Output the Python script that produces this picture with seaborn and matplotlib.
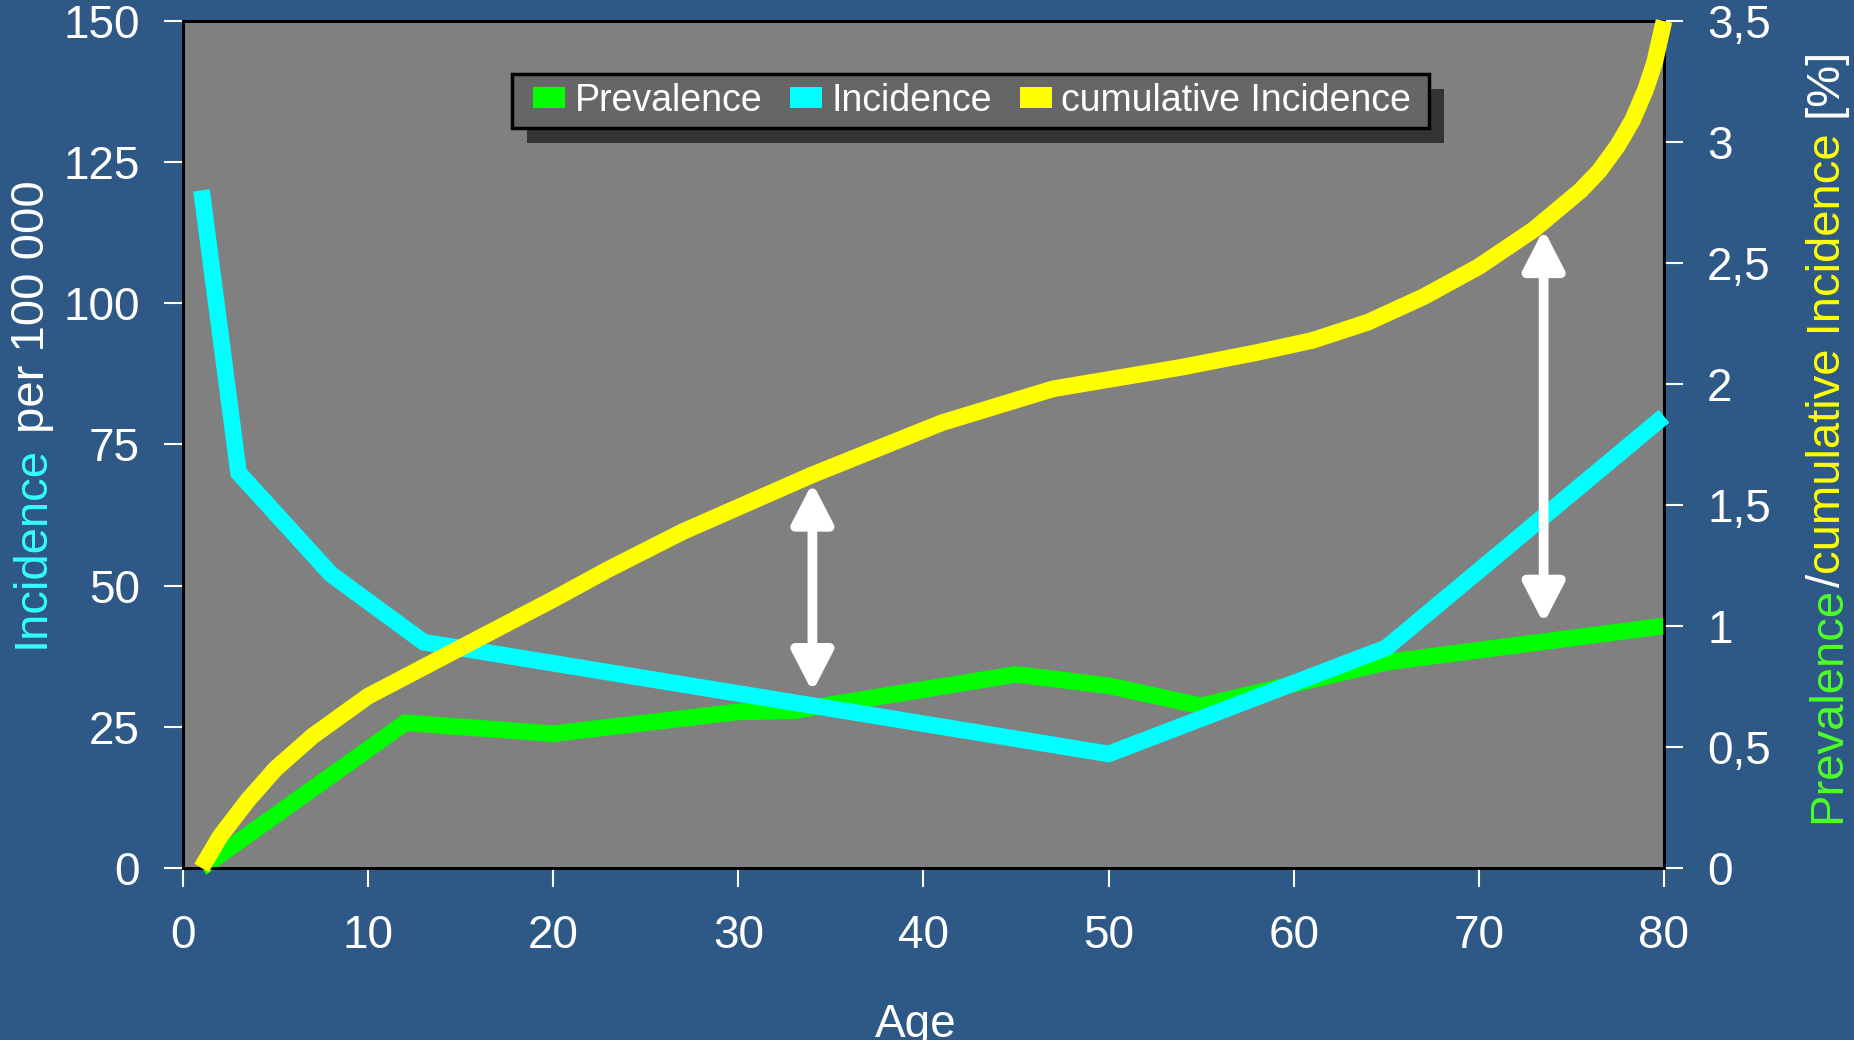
import pandas as pd
import matplotlib
matplotlib.use('Agg')
import matplotlib.pyplot as plt
import seaborn as sns
from matplotlib.patches import Patch, Rectangle
from matplotlib.ticker import FuncFormatter
from matplotlib.transforms import IdentityTransform

# Incidence per 100 000 (left axis)
age_inc = [1, 3, 8, 13, 50, 65, 80]
incidence = [120, 70, 52, 40, 20.2, 39, 80]

# Prevalence in % (right axis)
age_prev = [1, 12, 20, 30, 33, 45, 50, 55, 65, 80]
prevalence = [0, 0.6, 0.555, 0.645, 0.65, 0.80, 0.753, 0.67, 0.85, 1.0]

# cumulative incidence in % (right axis)
age_cum = [1, 2, 3.5, 5, 7, 9, 10, 12.5, 16, 20, 23, 27, 34, 41, 47, 54,
           58, 61, 64, 67, 70, 73, 75.5, 76.5, 77.5, 78.3, 79, 79.5, 80]
cum_inc = [0, 0.13, 0.28, 0.41, 0.545, 0.655, 0.71, 0.81, 0.95, 1.11, 1.235,
           1.39, 1.625, 1.84, 1.98, 2.07, 2.13, 2.18, 2.255, 2.36, 2.485,
           2.64, 2.80, 2.88, 2.985, 3.09, 3.215, 3.33, 3.5]

# double arrows (left axis units)
arrow_age = [34, 73.5]
arrow_low = [31.2, 43.3]
arrow_high = [68.2, 113.1]

x_ticks = list(range(0, 81, 10))
left_ticks = list(range(0, 151, 25))
right_ticks = [0, 0.5, 1, 1.5, 2, 2.5, 3, 3.5]

BG = '#2E5886'
GREEN = '#00FF00'
CYAN = '#00FFFF'
YELLOW = '#FFFF00'

sns.set_style('ticks')
plt.rcParams['font.family'] = ['Liberation Sans', 'DejaVu Sans']

fig = plt.figure(figsize=(18.54, 10.4), dpi=100, facecolor=BG)
ax = fig.add_axes([0.0987, 0.1654, 0.7988, 0.8144])
ax.set_facecolor('#808080')
ax2 = ax.twinx()

line_kw = dict(estimator=None, sort=False, linewidth=12, clip_on=False,
               solid_capstyle='butt', solid_joinstyle='miter')

prev_df = pd.DataFrame({'age': age_prev, 'value': prevalence})
inc_df = pd.DataFrame({'age': age_inc, 'value': incidence})
cum_df = pd.DataFrame({'age': age_cum, 'value': cum_inc})

# all lines live on ax2 so the stacking order is green < cyan < yellow
sns.lineplot(data=prev_df, x='age', y='value', ax=ax2, color=GREEN, zorder=2, **line_kw)
sns.lineplot(data=inc_df, x='age', y='value', ax=ax2, color=CYAN, zorder=3,
             transform=ax.transData, **line_kw)
line_kw['solid_joinstyle'] = 'round'
sns.lineplot(data=cum_df, x='age', y='value', ax=ax2, color=YELLOW, zorder=4, **line_kw)

for a, lo, hi in zip(arrow_age, arrow_low, arrow_high):
    ax2.annotate('', xy=(a, hi), xytext=(a, lo),
                 xycoords=ax.transData, textcoords=ax.transData,
                 arrowprops=dict(arrowstyle='<|-|>,head_length=1.2,head_width=0.62',
                                 color='white', lw=7, shrinkA=0, shrinkB=0,
                                 mutation_scale=20),
                 zorder=6)

ax.set_xlim(0, 80)
ax.set_ylim(0, 150)
ax2.set_ylim(0, 3.5)
ax.set_xticks(x_ticks)
ax.set_yticks(left_ticks)
ax2.set_yticks(right_ticks)
ax2.yaxis.set_major_formatter(FuncFormatter(lambda v, p: f'{v:g}'.replace('.', ',')))
for a in (ax, ax2):
    a.set_xlabel('')
    a.set_ylabel('')
    for s in a.spines.values():
        s.set_color('black')
        s.set_linewidth(2)

ax.tick_params(axis='both', colors='white', direction='out', length=14, width=1.5)
ax.tick_params(axis='x', labelsize=33, pad=19)
ax.tick_params(axis='y', labelsize=33, pad=17)
ax2.tick_params(axis='y', colors='white', direction='out', length=14, width=1.5,
                labelsize=33, pad=17)

handles = [Patch(facecolor=GREEN, edgecolor='none', label='Prevalence'),
           Patch(facecolor=CYAN, edgecolor='none', label='Incidence'),
           Patch(facecolor=YELLOW, edgecolor='none', label='cumulative Incidence')]
leg = ax2.legend(handles=handles, loc='center', bbox_to_anchor=(0.533, 0.906), ncol=3,
                 fontsize=27, frameon=False, handlelength=0.85, handleheight=0.5,
                 handletextpad=0.25, columnspacing=0.75, borderpad=0.3,
                 labelcolor='white')
leg.set_zorder(10)

fig.canvas.draw()
renderer = fig.canvas.get_renderer()

# legend frame drawn by hand: wider side padding and a hard offset shadow
bb = leg.get_window_extent(renderer)
cy = (bb.y0 + bb.y1) / 2
box_w = bb.width + 16
box_h = 54
bx = bb.x0 - 10
by = cy - box_h / 2
ax2.add_patch(Rectangle((bx + 15, by - 15), box_w, box_h, facecolor='#333333',
                        edgecolor='none', transform=IdentityTransform(),
                        clip_on=False, zorder=8))
ax2.add_patch(Rectangle((bx, by), box_w, box_h, facecolor='#666666',
                        edgecolor='black', linewidth=2.5,
                        transform=IdentityTransform(), clip_on=False, zorder=9))


def colored_label(x, y, parts, size=34):
    """Stack coloured pieces of a vertical label one after the other."""
    px, py = fig.transFigure.transform((x, y))
    for text, color in parts:
        t = fig.text(px, py, text, color=color, fontsize=size, rotation=90,
                     rotation_mode='anchor', ha='left', va='baseline',
                     transform=IdentityTransform())
        py += t.get_window_extent(renderer).height


colored_label(0.0235, 0.377, [('Incidence', '#33FFFF'), (' per 100 000', 'white')])
colored_label(0.9925, 0.2087, [('Prevalence', '#4CFF26'), ('/', 'white'),
                               ('cumulative Incidence', YELLOW), (' [%]', 'white')])

fig.text(916 / 1854, 0.003, 'Age', ha='center', va='baseline', fontsize=33, color='white')

fig.savefig('out.png', dpi=100, facecolor=BG)
